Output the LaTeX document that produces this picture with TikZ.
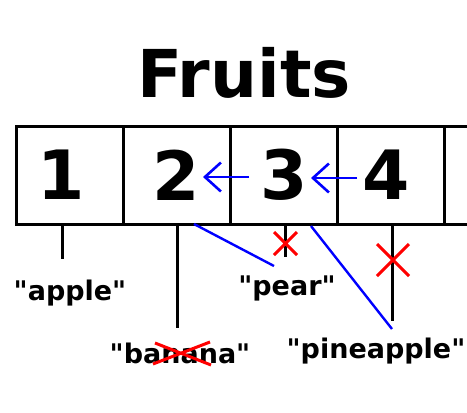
\documentclass[tikz,border=0pt]{standalone}
\usepackage{fontspec}
\newfontfamily\dv{DejaVu Sans}
\usetikzlibrary{arrows.meta}
\tikzset{
  cell/.style={draw, line width=3pt, minimum width=107pt, minimum height=98pt, inner sep=0pt, outer sep=0pt},
  num/.style={inner sep=0pt, font=\dv\bfseries\fontsize{68}{68}\selectfont},
  lbl/.style={inner sep=0pt, font=\dv\bfseries\fontsize{27}{27}\selectfont},
  ttl/.style={inner sep=0pt, font=\dv\bfseries\fontsize{66}{66}\selectfont},
  stem/.style={line width=3pt},
  ptr/.style={blue, line width=2.6pt, -{Straight Barb[length=16pt,width=29pt]}},
  bline/.style={blue, line width=2.4pt},
  cross/.style={red, line width=3pt}
}
\begin{document}
\begin{tikzpicture}[x=1pt,y=-1pt]
\useasboundingbox (0,0) rectangle (467,413);
\node[ttl] (title) at (244,73) {Fruits};
% cells
\node[cell] (c1) at (69.5,175) {};
\node[cell] (c2) at (176.5,175) {};
\node[cell] (c3) at (283.5,175) {};
\node[cell] (c4) at (390.5,175) {};
\coordinate (rt) at (472,126);
\coordinate (rb) at (472,224);
\draw[stem] (c4.north east) -- (rt);
\draw[stem] (c4.south east) -- (rb);
% numbers
\node[num] (n1) at (61,175) {1};
\node[num] (n2) at (176,175) {2};
\node[num] (n3) at (284,175) {3};
\node[num] (n4) at (386,175) {4};
% pointer arrows
\coordinate (a3s) at (249,177);
\coordinate (a3e) at (203,177);
\coordinate (a4s) at (357,178);
\coordinate (a4e) at (311,178);
\draw[ptr] (a3s) -- (a3e);
\draw[ptr] (a4s) -- (a4e);
% labels
\node[lbl] (apple) at (70,293) {"apple"};
\node[lbl] (banana) at (180,353) {"banana"};
\node[lbl] (pear) at (287,288) {"pear"};
\node[lbl] (pineapple) at (376,351) {"pineapple"};
% stems
\coordinate (s1t) at (62,224);  \coordinate (s1b) at (62,259);
\coordinate (s2t) at (177,224); \coordinate (s2b) at (177,328);
\coordinate (s3t) at (285,224); \coordinate (s3b) at (285,257);
\coordinate (s4t) at (392,224); \coordinate (s4b) at (392,321);
\draw[stem] (s1t) -- (s1b);
\draw[stem] (s2t) -- (s2b);
\draw[stem] (s3t) -- (s3b);
\draw[stem] (s4t) -- (s4b);
% blue lines
\coordinate (b1s) at (194,224); \coordinate (b1e) at (274,266);
\coordinate (b2s) at (311,226); \coordinate (b2e) at (392,329);
\draw[bline] (b1s) -- (b1e);
\draw[bline] (b2s) -- (b2e);
% red crosses
\draw[cross] (274,232) -- (297,255) (274,255) -- (297,232);
\draw[cross] (377,244) -- (409,276) (377,276) -- (409,244);
\draw[cross] (155,343) -- (211,365) (153,364) -- (210,342);
\end{tikzpicture}
\end{document}
